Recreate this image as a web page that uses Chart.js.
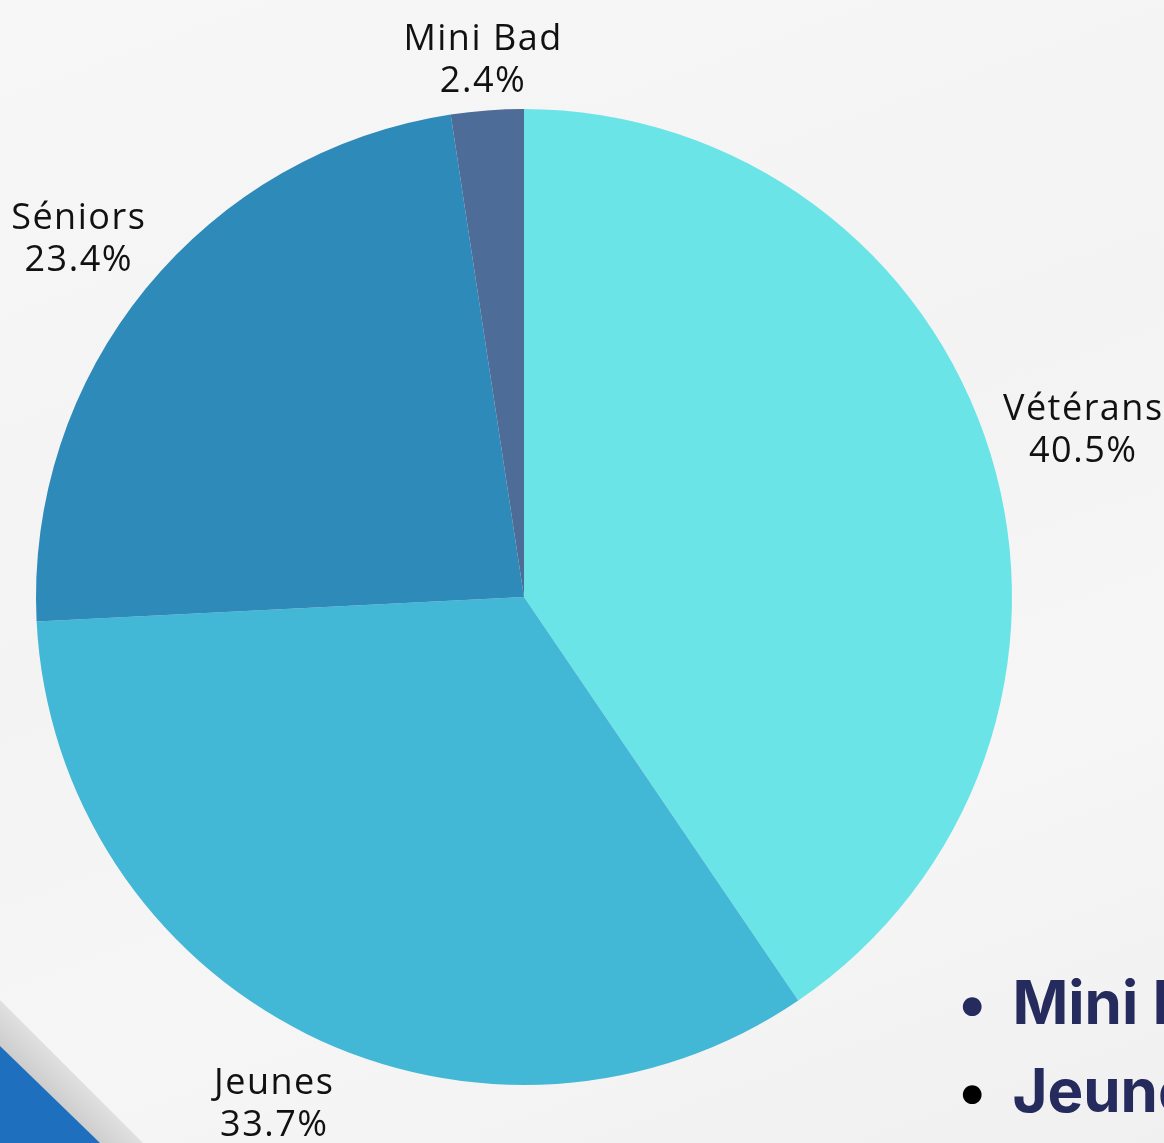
<!DOCTYPE html>
<html lang="fr">
<head>
  <meta charset="UTF-8">
  <title>Répartition des licenciés</title>
  <script src="https://cdn.jsdelivr.net/npm/chart.js"></script>
  <style>
    html, body { margin: 0; padding: 0; }
    body { width: 1164px; height: 1143px; overflow: hidden; position: relative;
           background: linear-gradient(160deg, #f7f7f7 0%, #f3f3f3 45%, #f6f6f6 70%, #f0f0f0 100%); }
    #wrap { position: absolute; left: 0; top: 0; width: 1164px; height: 1143px; }
    .shade { position: absolute; left: 0; top: 1000px; width: 143px; height: 143px;
             background: linear-gradient(45deg, #c8c8c8 30%, #e6e6e6 55%, #f2f2f2 70%);
             clip-path: polygon(0 0, 0 100%, 100% 100%); }
    .blue { position: absolute; left: 0; top: 1046px; width: 100px; height: 97px;
            background: #1f6fbf; clip-path: polygon(0 0, 0 100%, 100% 100%); }
    .bullets { position: absolute; left: 958px; top: 958px; margin: 0; padding: 0; list-style: none;
               font-family: Inter, 'Noto Sans', sans-serif; font-weight: 700; font-size: 60px;
               color: #262b5e; white-space: nowrap; line-height: 88px; }
    .bullets li::before { content: '\2022'; margin-right: 26px; }
    .bullets li.b2::before { color: #000; }
  </style>
</head>
<body>
  <div class="shade"></div>
  <div class="blue"></div>
  <ul class="bullets">
    <li>Mini Bad</li>
    <li class="b2">Jeunes</li>
  </ul>
  <div id="wrap"><canvas id="pieCanvas" width="1164" height="1143"></canvas></div>

  <script>
    const categories = ['Vétérans', 'Jeunes', 'Séniors', 'Mini Bad'];
    const shares = [40.5, 33.7, 23.4, 2.4];
    const sliceColors = ['#6be4e8', '#43b7d6', '#2d8ab9', '#4d6c98'];

    // draws "name / xx.x%" outside each slice, pushed out by the label box size
    const outsideLabels = {
      id: 'outsideLabels',
      afterDatasetsDraw(chart) {
        const ctx = chart.ctx;
        const meta = chart.getDatasetMeta(0);
        ctx.save();
        ctx.font = '36px "Open Sans", sans-serif';
        ctx.letterSpacing = '1.5px';
        ctx.fillStyle = '#111';
        ctx.textAlign = 'center';
        ctx.textBaseline = 'middle';
        const lineH = 42;
        meta.data.forEach((arc, i) => {
          const mid = (arc.startAngle + arc.endAngle) / 2;
          const ux = Math.cos(mid), uy = Math.sin(mid);
          const lines = [categories[i], shares[i].toFixed(1) + '%'];
          const w = Math.max(...lines.map(t => ctx.measureText(t).width));
          const h = lineH * 2;
          const support = w / 2 * Math.abs(ux) + h / 2 * Math.abs(uy);
          const d = arc.outerRadius + 8 + support;
          const cx = arc.x + ux * d, cy = arc.y + uy * d + 6;
          ctx.fillText(lines[0], cx, cy - lineH / 2);
          ctx.fillText(lines[1], cx, cy + lineH / 2);
        });
        ctx.restore();
      }
    };

    new Chart(document.getElementById('pieCanvas'), {
      type: 'pie',
      data: {
        labels: categories,
        datasets: [{ data: shares, backgroundColor: sliceColors, borderWidth: 0 }]
      },
      options: {
        responsive: false,
        animation: false,
        layout: { padding: { left: 36, right: 152, top: 109, bottom: 58 } },
        plugins: { legend: { display: false }, tooltip: { enabled: false } }
      },
      plugins: [outsideLabels]
    });
  </script>
</body>
</html>
